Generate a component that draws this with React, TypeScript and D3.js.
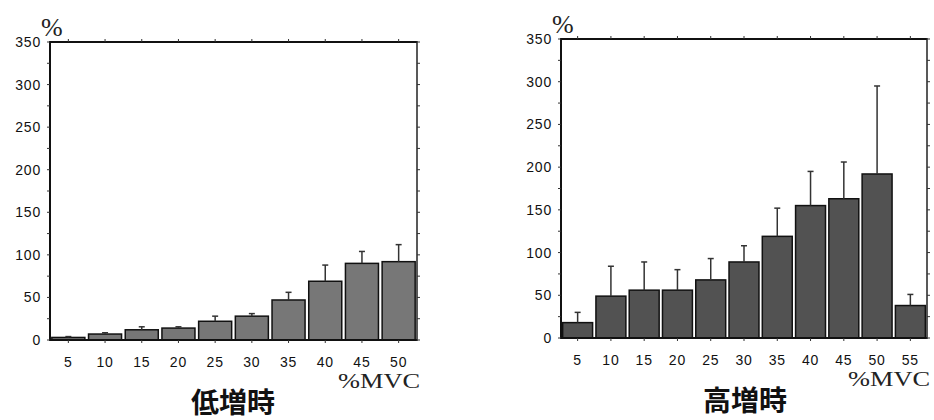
import React from "react";
import * as d3 from "d3";

const lowCategories = ["5", "10", "15", "20", "25", "30", "35", "40", "45", "50"];
const lowValues = [3, 7, 12, 14, 22, 28, 47, 69, 90, 92];
const lowErrors = [1, 1.5, 3.5, 1.5, 6, 3, 9, 19, 14, 20];

const highCategories = ["5", "10", "15", "20", "25", "30", "35", "40", "45", "50", "55"];
const highValues = [18, 49, 56, 56, 68, 89, 119, 155, 163, 192, 38];
const highErrors = [12, 35, 33, 24, 25, 19, 33, 40, 43, 103, 13];

const yTicks = [0, 50, 100, 150, 200, 250, 300, 350];
const yMinorTicks = [25, 75, 125, 175, 225, 275, 325];

const titles = ["低増時", "高増時"];
const xUnit = "%MVC";
const yUnit = "%";

type PanelProps = {
  cats: string[];
  vals: number[];
  errs: number[];
  x0: number;
  x1: number;
  yTop: number;
  yBottom: number;
  fill: string;
  padding: number;
  title: string;
  titleX: number;
};

function Panel({ cats, vals, errs, x0, x1, yTop, yBottom, fill, padding, title, titleX }: PanelProps) {
  const x = d3.scaleBand<string>().domain(cats).range([x0, x1]).paddingInner(padding).paddingOuter(padding / 2);
  const xc = d3.scalePoint<string>().domain(cats).range([x0, x1]).padding(0.5);
  const y = d3.scaleLinear().domain([0, 350]).range([yBottom, yTop]);
  const tickFont = "'Liberation Sans', Arial, sans-serif";
  return (
    <g>
      {cats.map((c, i) => (
        <rect
          key={"b" + c}
          x={x(c)!}
          y={y(vals[i])}
          width={x.bandwidth()}
          height={y(0) - y(vals[i])}
          fill={fill}
          stroke="#111"
          strokeWidth={1.5}
        />
      ))}
      {cats.map((c, i) => {
        const cx = xc(c)!;
        return (
          <g key={"e" + c} stroke="#333" strokeWidth={1.5}>
            <line x1={cx} x2={cx} y1={y(vals[i])} y2={y(vals[i] + errs[i])} />
            <line x1={cx - 3} x2={cx + 3} y1={y(vals[i] + errs[i])} y2={y(vals[i] + errs[i])} />
          </g>
        );
      })}
      <line x1={x0} x2={x1} y1={yTop} y2={yTop} stroke="#111" strokeWidth={2} />
      <line x1={x0} x2={x1} y1={yBottom} y2={yBottom} stroke="#111" strokeWidth={2} />
      <line x1={x0} x2={x0} y1={yTop - 1} y2={yBottom + 1} stroke="#111" strokeWidth={2} />
      <line x1={x1} x2={x1} y1={yTop - 1} y2={yBottom + 1} stroke="#222" strokeWidth={1.5} />
      {yTicks.concat(yMinorTicks).map((t) => (
        <g key={"yt" + t} stroke="#333" strokeWidth={1}>
          <line x1={x0 - 3} x2={x0} y1={y(t)} y2={y(t)} />
          <line x1={x1} x2={x1 + 3} y1={y(t)} y2={y(t)} />
        </g>
      ))}
      {yTicks.map((t) => (
        <text
          key={"yl" + t}
          x={x0 - 9}
          y={y(t)}
          dy="0.36em"
          textAnchor="end"
          fontFamily={tickFont}
          fontSize={14}
          letterSpacing={0.8}
          fill="#111"
        >
          {t}
        </text>
      ))}
      {cats.map((c) => (
        <g key={"xt" + c} stroke="#333" strokeWidth={1}>
          <line x1={xc(c)!} x2={xc(c)!} y1={yTop - 3} y2={yTop} />
          <line x1={xc(c)!} x2={xc(c)!} y1={yBottom} y2={yBottom + 3} />
        </g>
      ))}
      {cats.map((c) => (
        <text
          key={"xl" + c}
          x={xc(c)!}
          y={yBottom + 27}
          textAnchor="middle"
          fontFamily={tickFont}
          fontSize={14}
          letterSpacing={0.8}
          fill="#111"
        >
          {c}
        </text>
      ))}
      <text x={x0 - 9} y={yTop - 6} fontFamily="'Liberation Serif', serif" fontSize={26} fill="#222">
        {yUnit}
      </text>
      <text
        x={x1 + 3}
        y={yBottom + 48}
        textAnchor="end"
        fontFamily="'Liberation Serif', serif"
        fontSize={21}
        textLength={82}
        lengthAdjust="spacingAndGlyphs"
        fill="#222"
      >
        {xUnit}
      </text>
      <text
        x={titleX}
        y={yBottom + 73}
        textAnchor="middle"
        fontFamily="'Noto Sans CJK JP', sans-serif"
        fontWeight={600}
        fontSize={28}
        fill="#111"
      >
        {title}
      </text>
    </g>
  );
}

export default function App() {
  return (
    <svg width={934} height={420} style={{ position: "absolute", left: 0, top: 0, background: "#fff" }}>
      <rect width={934} height={420} fill="#fff" />
      <Panel
        cats={lowCategories}
        vals={lowValues}
        errs={lowErrors}
        x0={50}
        x1={417}
        yTop={42}
        yBottom={340}
        fill="#777777"
        padding={0.1}
        title={titles[0]}
        titleX={233}
      />
      <Panel
        cats={highCategories}
        vals={highValues}
        errs={highErrors}
        x0={561}
        x1={927}
        yTop={39}
        yBottom={338}
        fill="#525252"
        padding={0.1}
        title={titles[1]}
        titleX={745}
      />
    </svg>
  );
}
